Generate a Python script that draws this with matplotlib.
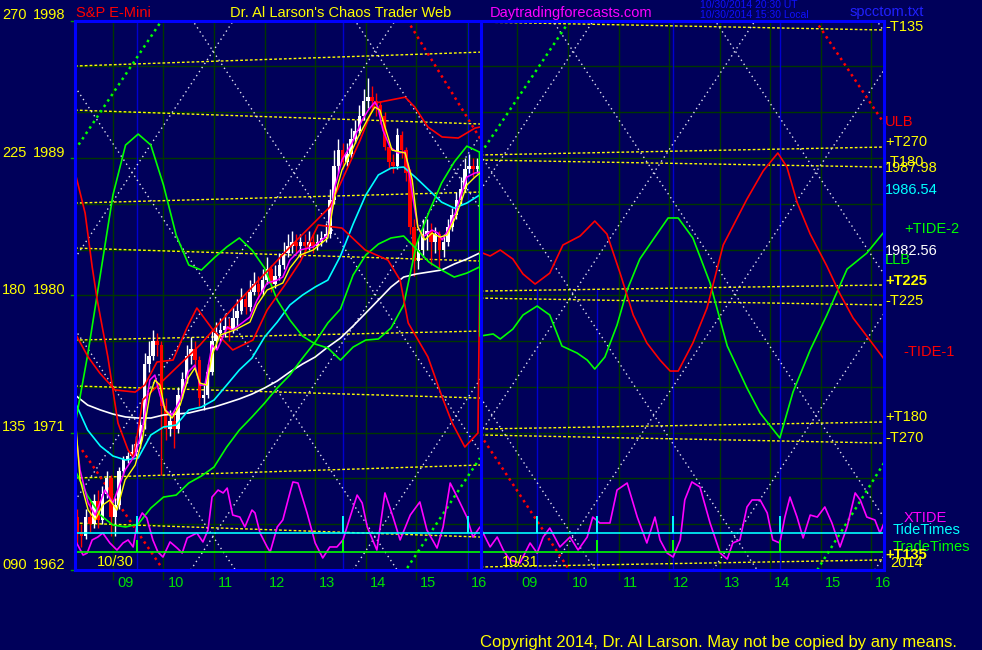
import numpy as np
import matplotlib
matplotlib.use('Agg')
import matplotlib.pyplot as plt
from matplotlib.transforms import blended_transform_factory

plt.rcParams['font.family'] = ['Liberation Sans', 'DejaVu Sans']

# ---------------- data ----------------
t_lo, t_hi = 8.25, 24.25          # hours, day 2 continues at +8h
p_lo, p_hi = 1962, 1998
day_break = 16.27

degree_labels = ['090', '135', '180', '225', '270']
price_ticks = [1962, 1971, 1980, 1989, 1998]
hour_ticks = list(range(9, 25))
hour_labels = ['09', '10', '11', '12', '13', '14', '15', '16',
               '09', '10', '11', '12', '13', '14', '15', '16']

# 5 minute bars, day 1
bar_open0 = 1965.5
bar_close = [1964.5, 1964.25, 1965.5, 1965.0, 1966.5, 1965.25, 1967.0, 1968.0, 1965.5, 1966.25,
             1968.5, 1969.25, 1969.5, 1969.75, 1970.25, 1971.5, 1975.5, 1976.0, 1977.0, 1976.75,
             1972.75, 1971.25, 1971.75, 1971.25, 1973.5, 1974.5, 1976.0, 1976.5, 1975.75, 1973.25,
             1973.5, 1975.0, 1977.0, 1977.5, 1977.75, 1978.0, 1977.75, 1978.5, 1979.0, 1979.75,
             1979.25, 1980.25, 1980.75, 1980.25, 1981.0, 1981.75, 1980.75, 1981.25, 1982.0, 1982.75,
             1983.25, 1983.5, 1983.25, 1983.5, 1983.25, 1983.5, 1983.25, 1983.5, 1983.75, 1984.0,
             1986.25, 1988.5, 1989.5, 1988.75, 1989.25, 1990.25, 1990.75, 1991.75, 1992.75, 1993.0,
             1992.75, 1992.5, 1991.75, 1989.75, 1988.75, 1988.5, 1990.5, 1989.5, 1988.0, 1984.5,
             1982.25, 1983.0, 1984.0, 1984.25, 1983.5, 1984.0, 1983.0, 1983.5, 1984.5, 1985.25,
             1986.25, 1987.0, 1988.25, 1988.5, 1988.25, 1988.5]
bar_high = [1966.0, 1965.0, 1966.0, 1966.5, 1967.0, 1967.25, 1967.5, 1968.5, 1968.25, 1966.75,
            1968.75, 1969.5, 1969.75, 1970.25, 1970.75, 1972.0, 1976.25, 1977.0, 1977.75, 1977.5,
            1977.0, 1973.25, 1972.5, 1972.5, 1974.0, 1975.0, 1976.75, 1977.25, 1977.0, 1976.0,
            1974.25, 1975.5, 1977.75, 1978.25, 1978.5, 1978.75, 1978.5, 1979.25, 1979.75, 1980.5,
            1980.25, 1981.0, 1981.5, 1981.25, 1981.75, 1982.5, 1982.0, 1982.0, 1982.75, 1983.5,
            1984.0, 1984.25, 1984.0, 1984.0, 1984.0, 1984.25, 1984.0, 1984.0, 1984.25, 1984.75,
            1987.0, 1989.5, 1990.25, 1990.0, 1990.0, 1991.0, 1991.5, 1992.5, 1993.5, 1994.25,
            1993.75, 1993.25, 1992.75, 1992.0, 1990.0, 1989.25, 1991.0, 1990.75, 1989.75, 1988.25,
            1985.0, 1983.75, 1985.0, 1985.0, 1984.75, 1984.5, 1984.25, 1984.0, 1985.0, 1985.75,
            1986.75, 1987.75, 1989.0, 1989.25, 1989.0, 1989.0]
bar_low = [1963.75, 1963.5, 1964.0, 1964.5, 1964.75, 1964.75, 1965.0, 1966.75, 1964.25, 1964.25,
           1966.0, 1968.25, 1969.0, 1969.25, 1969.5, 1970.0, 1971.25, 1975.0, 1975.75, 1976.0,
           1968.25, 1970.5, 1970.75, 1970.0, 1971.0, 1973.25, 1974.25, 1975.5, 1975.25, 1972.75,
           1972.5, 1973.25, 1974.75, 1976.5, 1977.0, 1977.25, 1977.0, 1977.5, 1978.0, 1978.75,
           1978.75, 1979.0, 1980.0, 1979.75, 1980.0, 1980.75, 1980.25, 1980.5, 1981.0, 1981.75,
           1982.5, 1982.75, 1982.75, 1982.5, 1982.75, 1983.0, 1982.75, 1983.0, 1983.25, 1983.5,
           1983.75, 1986.0, 1988.0, 1988.25, 1988.5, 1989.0, 1990.0, 1990.5, 1991.5, 1992.25,
           1992.25, 1991.75, 1991.25, 1989.5, 1988.25, 1988.0, 1988.25, 1989.0, 1987.5, 1984.0,
           1981.25, 1981.75, 1982.5, 1983.0, 1982.0, 1982.75, 1981.75, 1982.5, 1983.25, 1984.25,
           1985.0, 1986.0, 1986.75, 1988.0, 1987.75, 1988.0]

# smooth indicators day 1, sampled every 15 minutes
grid_t1 = [8.25, 8.5, 8.75, 9.0, 9.25, 9.5, 9.75, 10.0, 10.25, 10.5, 10.75, 11.0, 11.25, 11.5,
           11.75, 12.0, 12.25, 12.5, 12.75, 13.0, 13.25, 13.5, 13.75, 14.0, 14.25, 14.5, 14.75,
           15.0, 15.25, 15.5, 15.75, 16.0, 16.25]
cyan_ma = [1973.01, 1971.17, 1970.13, 1969.47, 1969.21, 1969.34, 1970.85, 1971.37, 1971.50, 1972.49,
           1972.68, 1973.14, 1974.12, 1975.11, 1975.89, 1977.27, 1978.25, 1979.37, 1980.02, 1980.55,
           1981.00, 1982.58, 1984.67, 1986.57, 1987.89, 1988.34, 1988.41, 1987.69, 1986.90, 1986.11,
           1985.72, 1986.05, 1986.57]
white_ma = [1973.47, 1972.81, 1972.49, 1972.22, 1972.03, 1971.96, 1971.96, 1972.16, 1972.22, 1972.29,
            1972.49, 1972.68, 1972.94, 1973.21, 1973.53, 1973.93, 1974.39, 1974.98, 1975.50, 1975.96,
            1976.61, 1977.20, 1977.99, 1978.84, 1979.69, 1980.55, 1981.20, 1981.40, 1981.53, 1981.66,
            1982.05, 1982.38, 1982.77]
green_a1 = [1971.50, 1976.09, 1981.33, 1986.57, 1989.85, 1990.57, 1989.85, 1987.23, 1983.95, 1981.99,
            1981.66, 1982.45, 1983.17, 1983.76, 1982.97, 1981.79, 1979.69, 1978.38, 1977.33, 1976.81,
            1976.55, 1975.76, 1976.61, 1977.07, 1977.14, 1977.86, 1979.37, 1983.30, 1985.46, 1987.36,
            1988.74, 1989.78, 1989.39]
green_b1 = [1968.55, 1966.85, 1965.60, 1964.95, 1964.82, 1965.01, 1966.06, 1966.78, 1966.91, 1967.70,
            1968.16, 1968.75, 1970.06, 1971.17, 1972.03, 1972.94, 1973.93, 1974.78, 1975.89, 1976.94,
            1978.19, 1979.10, 1981.33, 1982.64, 1983.36, 1983.76, 1983.89, 1983.04, 1982.18, 1981.66,
            1981.20, 1981.46, 1981.86]

red_a_t = [8.25, 8.45, 8.59, 8.69, 8.90, 9.10, 9.30, 9.40, 9.50, 9.59, 10.72, 11.51, 12.54, 13.29,
           13.89, 14.18, 14.78, 14.97, 15.23, 15.51, 15.83, 16.16, 16.26]
red_a_p = [1988.08, 1985.39, 1981.86, 1979.69, 1975.96, 1971.63, 1969.86, 1969.41, 1971.17, 1973.14,
           1976.74, 1979.69, 1983.30, 1985.79, 1990.18, 1992.60, 1992.99, 1992.34, 1991.03, 1990.38,
           1990.31, 1990.96, 1991.03]
red_b_t = [8.25, 8.51, 8.74, 9.04, 9.44, 9.63, 9.87, 10.19, 10.47, 10.66, 10.98, 11.37, 11.77, 12.05,
           12.40, 12.70, 13.06, 13.53, 13.99, 14.44, 14.68, 14.84, 15.23, 15.51, 15.71, 15.96, 16.22,
           16.26]
red_b_p = [1977.53, 1975.96, 1974.91, 1973.80, 1973.66, 1974.12, 1975.63, 1975.76, 1977.92, 1979.17,
           1977.73, 1976.42, 1977.07, 1979.04, 1980.68, 1982.18, 1984.61, 1984.41, 1982.97, 1982.31,
           1981.00, 1978.19, 1975.96, 1973.34, 1971.63, 1970.06, 1970.98, 1982.84]

magenta_t = [8.25, 8.35, 8.51, 8.65, 8.84, 9.00, 9.24, 9.44, 9.58, 9.73, 9.83, 9.93, 10.03, 10.17,
             10.33, 10.49, 10.62, 10.72, 10.82, 10.96, 11.06, 11.26, 11.37, 11.71, 11.85, 12.05,
             12.25, 12.36, 12.50, 12.70, 12.96, 13.25, 13.39, 13.53, 13.73, 13.93, 14.05, 14.18,
             14.24, 14.34, 14.48, 14.64, 14.78, 14.84, 14.94, 15.03, 15.13, 15.31, 15.43, 15.51,
             15.63, 15.77, 15.90, 16.00, 16.16, 16.26]
magenta_p = [1971.50, 1968.55, 1966.39, 1965.60, 1967.24, 1966.39, 1968.55, 1969.54, 1971.17, 1974.45,
             1974.78, 1973.47, 1972.49, 1972.16, 1973.14, 1974.98, 1975.43, 1974.12, 1974.12, 1976.74,
             1976.42, 1977.92, 1977.73, 1978.58, 1979.69, 1980.81, 1981.00, 1981.20, 1982.31, 1982.97,
             1983.17, 1983.95, 1987.10, 1988.87, 1989.98, 1991.49, 1992.14, 1992.67, 1992.34, 1990.83,
             1989.72, 1989.33, 1989.39, 1988.41, 1986.25, 1984.48, 1983.82, 1984.28, 1984.08, 1983.63,
             1984.28, 1985.39, 1986.71, 1987.75, 1988.02, 1988.08]
yellow_t = [8.25, 8.35, 8.51, 8.65, 8.80, 8.94, 9.08, 9.24, 9.44, 9.58, 9.73, 9.83, 9.93, 10.03,
            10.17, 10.33, 10.49, 10.62, 10.72, 10.86, 10.96, 11.12, 11.41, 11.71, 11.85, 12.05,
            12.36, 12.50, 12.70, 12.96, 13.25, 13.39, 13.53, 13.73, 13.85, 14.05, 14.18, 14.28,
            14.38, 14.52, 14.78, 14.92, 15.03, 15.17, 15.31, 15.47, 15.61, 15.77, 15.90, 16.00,
            16.16, 16.26]
yellow_p = [1972.29, 1967.90, 1965.93, 1965.28, 1966.26, 1966.59, 1965.93, 1967.90, 1968.88, 1970.52,
            1973.47, 1974.45, 1974.12, 1972.49, 1971.96, 1972.81, 1974.58, 1975.24, 1974.25, 1974.12,
            1976.09, 1977.40, 1977.73, 1978.25, 1979.37, 1980.35, 1980.81, 1981.79, 1982.64, 1982.97,
            1983.76, 1986.57, 1988.21, 1989.52, 1990.38, 1991.62, 1992.34, 1992.14, 1991.03, 1989.52,
            1989.33, 1987.56, 1984.48, 1983.63, 1984.08, 1983.82, 1983.95, 1985.07, 1986.25, 1987.23,
            1987.75, 1988.02]

# day 2 tides
tide1_t = [16.26, 16.46, 16.66, 16.91, 17.11, 17.35, 17.64, 17.90, 18.24, 18.53, 18.77, 19.03, 19.29,
           19.56, 19.82, 20.02, 20.18, 20.47, 20.75, 21.07, 21.54, 21.86, 22.15, 22.33, 22.53, 22.79,
           23.12, 23.38, 23.64, 23.91, 24.25]
tide1_p = [1982.84, 1982.58, 1982.97, 1982.38, 1981.40, 1980.74, 1981.46, 1983.30, 1983.89, 1984.87,
           1984.02, 1981.46, 1978.71, 1976.88, 1975.76, 1975.04, 1975.04, 1976.88, 1979.17, 1983.30,
           1986.31, 1988.15, 1989.33, 1988.41, 1986.11, 1984.02, 1981.92, 1980.09, 1978.51, 1977.33,
           1975.83]
tide2_t = [16.26, 16.52, 16.66, 16.91, 17.11, 17.39, 17.64, 17.88, 18.18, 18.38, 18.53, 18.73, 18.97,
           19.17, 19.42, 19.76, 19.98, 20.18, 20.47, 20.81, 21.15, 21.54, 21.80, 22.19, 22.45, 22.79,
           23.12, 23.52, 23.91, 24.25]
tide2_p = [1977.33, 1977.47, 1977.14, 1977.79, 1978.71, 1979.30, 1978.71, 1976.68, 1976.22, 1975.76,
           1975.17, 1975.96, 1978.05, 1980.35, 1982.38, 1984.02, 1985.07, 1985.07, 1983.76, 1980.81,
           1976.68, 1973.93, 1972.29, 1970.65, 1973.66, 1976.42, 1978.71, 1981.72, 1982.77, 1984.15]

xtide_t = [8.25, 8.41, 8.49, 8.59, 8.70, 8.80, 8.94, 9.08, 9.20, 9.30, 9.40, 9.48, 9.58, 9.67, 9.79,
           9.89, 9.99, 10.13, 10.27, 10.37, 10.47, 10.66, 10.78, 10.88, 10.96, 11.08, 11.18, 11.26,
           11.32, 11.37, 11.51, 11.61, 11.75, 11.81, 11.91, 12.05, 12.11, 12.25, 12.36, 12.50, 12.56,
           12.66, 12.84, 13.00, 13.15, 13.29, 13.43, 13.55, 13.69, 13.83, 13.93, 14.03, 14.22, 14.38,
           14.54, 14.68, 14.88, 15.07, 15.21, 15.41, 15.53, 15.67, 15.81, 16.00, 16.12, 16.26, 16.46,
           16.60, 16.72, 16.85, 17.05, 17.25, 17.39, 17.51, 17.64, 17.84, 18.04, 18.20, 18.38, 18.49,
           18.63, 18.83, 18.97, 19.17, 19.37, 19.56, 19.72, 19.82, 19.96, 20.08, 20.22, 20.31, 20.45,
           20.61, 20.81, 21.01, 21.15, 21.26, 21.40, 21.54, 21.64, 21.80, 21.94, 22.05, 22.19, 22.29,
           22.39, 22.53, 22.65, 22.79, 22.93, 23.08, 23.22, 23.38, 23.52, 23.68, 23.78, 23.91, 24.07,
           24.17, 24.25]
xtide_p = [1963.97, 1962.98, 1963.11, 1963.97, 1964.16, 1964.42, 1963.77, 1963.31, 1963.77, 1963.97,
           1963.51, 1965.08, 1965.74, 1965.41, 1963.97, 1963.18, 1962.85, 1963.84, 1963.44, 1963.11,
           1964.10, 1964.42, 1963.84, 1964.62, 1966.78, 1967.24, 1967.05, 1967.37, 1966.39, 1965.60,
           1965.47, 1964.82, 1965.93, 1965.74, 1964.42, 1963.51, 1963.18, 1964.82, 1965.28, 1967.05,
           1967.77, 1967.70, 1965.74, 1963.77, 1962.79, 1963.51, 1963.51, 1963.97, 1965.47, 1966.91,
           1966.39, 1964.82, 1963.31, 1967.05, 1965.47, 1963.97, 1965.60, 1966.46, 1964.62, 1963.44,
           1964.82, 1967.70, 1966.78, 1965.47, 1964.16, 1964.82, 1963.51, 1964.16, 1963.31, 1962.66,
           1962.46, 1963.77, 1963.11, 1964.16, 1964.75, 1963.51, 1964.16, 1963.31, 1964.16, 1965.47,
           1965.08, 1965.08, 1967.24, 1967.70, 1965.47, 1963.77, 1965.47, 1963.97, 1963.11, 1962.85,
           1963.97, 1966.59, 1967.77, 1967.44, 1965.08, 1963.11, 1962.72, 1963.77, 1963.97, 1966.13,
           1966.59, 1966.59, 1965.74, 1963.97, 1963.77, 1965.47, 1966.78, 1965.47, 1964.10, 1965.60,
           1965.47, 1966.13, 1965.08, 1963.51, 1964.82, 1967.05, 1966.59, 1965.47, 1965.28, 1964.42,
           1965.08]

tide_times = [9.48, 13.55, 16.02, 17.39, 18.57, 20.08, 22.19]
trade_times = [9.48, 13.55, 18.57, 20.08, 22.19]
tidetimes_base, tidetimes_top = 1964.42, 1965.54
tradetimes_base, tradetimes_top = 1963.18, 1963.97

# T lines (start / end price of each day)
tline1_start = [1995.03, 1992.14, 1986.05, 1983.10, 1977.07, 1974.06, 1968.03, 1965.08]
tline1_end = [1995.94, 1991.23, 1986.77, 1982.25, 1977.66, 1973.27, 1968.88, 1964.16]
tline2_start = [1997.91, 1989.20, 1988.87, 1980.28, 1979.82, 1971.24, 1970.85, 1962.20]
tline2_end = [1997.39, 1989.72, 1988.41, 1980.68, 1979.37, 1971.70, 1970.32, 1962.66]

# lattice of time/price lines: crossing times at the 1980.1 level
lattice_price = 1980.1
lattice_slope = 4.97
lattice_day1 = [7.78, 10.98, 14.18, 17.39]
lattice_day2 = [14.90, 18.10, 21.30, 24.51, 27.71]

# band lines (t0, p0, t1, p1)
green_band = [(8.25, 1989.52, 9.97, 1998.04), (14.82, 1962.13, 16.26, 1969.34),
              (16.28, 1989.33, 18.04, 1998.04), (22.93, 1962.0, 24.25, 1969.01)]
red_band = [(8.39, 1969.86, 9.97, 1962.13), (14.82, 1998.04, 16.27, 1990.24),
            (16.27, 1970.85, 18.00, 1962.13), (22.89, 1998.04, 24.25, 1991.27)]

# ---------------- figure ----------------
W, H = 982, 650
bg = '#00005a'
grid_c = '#003600'
fig = plt.figure(figsize=(W / 100, H / 100), dpi=100, facecolor=bg)
ax = fig.add_axes([75 / W, (H - 570) / H, 809 / W, 549.3 / H], facecolor=bg)
ax.set_xlim(t_lo, t_hi)
ax.set_ylim(p_lo, p_hi)
for s in ax.spines.values():
    s.set_color('#0000ff')
    s.set_linewidth(2.2)
    s.set_zorder(20)
ax.set_xticks([])
ax.set_yticks([])

# grid
ax.hlines(np.arange(1965, 1998, 3), t_lo, t_hi, color=grid_c, lw=1, zorder=1)
ax.vlines(hour_ticks, p_lo - 10 / 15.26, p_hi, color=grid_c, lw=1, zorder=1, clip_on=False)

# tide time verticals
full_tides = [9.48, 13.55, 16.02, 20.08, 22.19]
part_tides = [17.39, 18.57]
ax.vlines(full_tides, p_lo, p_hi, color='#0000d0', lw=1, zorder=1.5)
ax.vlines(part_tides, p_lo, 1980.4, color='#0000d0', lw=1, zorder=1.5)
ax.axvline(day_break, color='#0000ff', lw=2.2, zorder=19)

# T lines
for a, b in zip(tline1_start, tline1_end):
    ax.plot([t_lo, day_break], [a, b], color='#ffff00', lw=1, ls=(0, (2, 1.5)), zorder=2)
for a, b in zip(tline2_start, tline2_end):
    ax.plot([day_break, t_hi], [a, b], color='#ffff00', lw=1, ls=(0, (2, 1.5)), zorder=2)

# lattice
for t0, t1, xs in [(t_lo, day_break, lattice_day1), (day_break, t_hi, lattice_day2)]:
    tt = np.array([t0, t1])
    for tx in xs:
        for sgn in (1, -1):
            ax.plot(tt, lattice_price + sgn * lattice_slope * (tt - tx), color='#e0e0f0',
                    lw=1, ls=(0, (1, 2.5)), zorder=2)

for t0, p0, t1, p1 in green_band:
    ax.plot([t0, t1], [p0, p1], color='#00ff00', lw=1.8, ls=(0, (1, 1.6)), zorder=3)
for t0, p0, t1, p1 in red_band:
    ax.plot([t0, t1], [p0, p1], color='#ff0000', lw=1.8, ls=(0, (1, 1.6)), zorder=3)

# candles
c = np.array(bar_close)
o = np.concatenate([[bar_open0], c[:-1]])
bt = t_lo + (np.arange(len(c)) + 0.5) / 12
cols = np.where(c >= o, '#ffffff', '#ff0000')
ax.vlines(bt, bar_low, bar_high, colors=cols, lw=1, zorder=4)
body = np.maximum(np.abs(c - o), 0.15)
ax.bar(bt, body, bottom=np.minimum(o, c), width=0.07, color=cols, lw=0, zorder=4)

# indicators day 1
ax.plot(grid_t1, white_ma, color='#ffffff', lw=1.2, zorder=5)
ax.plot(grid_t1, cyan_ma, color='#00ffff', lw=1.2, zorder=5)
ax.plot(grid_t1, green_b1, color='#00ff00', lw=1.2, zorder=5)
ax.plot(grid_t1, green_a1, color='#00ff00', lw=1.2, zorder=5)
ax.plot(red_a_t, red_a_p, color='#ff0000', lw=1.2, zorder=5)
ax.plot(red_b_t, red_b_p, color='#ff0000', lw=1.2, zorder=5)
ax.plot(magenta_t, magenta_p, color='#ff00ff', lw=1.1, zorder=6)
ax.plot(yellow_t, yellow_p, color='#ffff00', lw=1.0, zorder=6)

# day 2 tides
ax.plot([grid_t1[-1]] + tide2_t, [green_a1[-1]] + tide2_p, color='#00ff00', lw=1.2, zorder=5)
ax.plot(tide1_t, tide1_p, color='#ff0000', lw=1.2, zorder=5)

# xtide and time markers
ax.plot(xtide_t, xtide_p, color='#ff00ff', lw=1.2, zorder=6)
ax.hlines(tidetimes_base, t_lo, t_hi, color='#00ffff', lw=1.2, zorder=6)
ax.vlines(tide_times, tidetimes_base, tidetimes_top, color='#00ffff', lw=1.4, zorder=6)
ax.hlines(tradetimes_base, t_lo, t_hi, color='#00ff00', lw=1.2, zorder=6)
ax.vlines(trade_times, tradetimes_base, tradetimes_top, color='#00ff00', lw=1.4, zorder=6)

# ---------------- text ----------------
fs = 10.5
yel = '#ffff00'
left_tf = blended_transform_factory(fig.transFigure, ax.transData)
for deg, pr in zip(degree_labels, price_ticks):
    ax.text(2 / W, pr + 0.08, deg, transform=left_tf, ha='left', va='baseline', color=yel,
            fontsize=fs, clip_on=False)
    ax.text(65 / W, pr + 0.08, str(pr), transform=left_tf, ha='right', va='baseline', color=yel,
            fontsize=fs, clip_on=False)
    ax.plot([71 / W, 75 / W], [pr, pr], transform=left_tf, color='#00a000', lw=1, clip_on=False)

for h, lbl in zip(hour_ticks, hour_labels):
    ax.text(h + 4 / 50.56, p_lo - 13 / 15.26, lbl, ha='left', va='center', color='#00e000',
            fontsize=fs, clip_on=False)

ax.text(8.69, 1962.52, '10/30', color=yel, fontsize=fs, va='center', zorder=10)
ax.text(16.70, 1962.52, '10/31', color=yel, fontsize=fs, va='center', zorder=10)

right_labels = [('-T135', 24.27, 1997.58, yel, 'normal'),
                ('ULB', 24.27, 1991.36, '#ff0000', 'normal'),
                ('+T270', 24.27, 1990.05, yel, 'normal'),
                ('-T180', 24.27, 1988.74, yel, 'normal'),
                ('1987.98', 24.27, 1988.34, yel, 'normal'),
                ('1986.54', 24.27, 1986.90, '#00ffff', 'normal'),
                ('+TIDE-2', 24.65, 1984.35, '#00ff00', 'normal'),
                ('1982.56', 24.27, 1982.90, '#ffffff', 'normal'),
                ('LLB', 24.27, 1982.31, '#00ff00', 'normal'),
                ('+T225', 24.27, 1980.94, yel, 'bold'),
                ('-T225', 24.27, 1979.63, yel, 'normal'),
                ('-TIDE-1', 24.63, 1976.29, '#ff0000', 'normal'),
                ('+T180', 24.27, 1972.03, yel, 'normal'),
                ('-T270', 24.27, 1970.65, yel, 'normal'),
                ('XTIDE', 24.63, 1965.41, '#ff00ff', 'normal'),
                ('TideTimes', 24.43, 1964.62, '#00ffff', 'normal'),
                ('TradeTimes', 24.43, 1963.51, '#00ff00', 'normal'),
                ('+T135', 24.27, 1962.98, yel, 'bold'),
                ('2014', 24.37, 1962.46, yel, 'normal')]
for txt, tx, py, col, wt in right_labels:
    ax.text(tx, py, txt, color=col, fontsize=fs, fontweight=wt, ha='left', va='center',
            clip_on=False, zorder=10)

fig.text(76 / W, 1 - 13 / H, 'S&P E-Mini', color='#ff0000', fontsize=fs, va='center')
fig.text(230 / W, 1 - 13 / H, "Dr. Al Larson's Chaos Trader Web", color=yel, fontsize=fs,
         va='center')
fig.text(490 / W, 1 - 13 / H, 'Daytradingforecasts.com', color='#ff00ff', fontsize=fs,
         va='center')
fig.text(700 / W, 1 - 5 / H, '10/30/2014 20:30 UT', color='#1010ff', fontsize=7.5, va='center')
fig.text(700 / W, 1 - 15 / H, '10/30/2014 15:30 Local', color='#1010ff', fontsize=7.5,
         va='center')
fig.text(850 / W, 1 - 12 / H, 'spcctom.txt', color='#2020ff', fontsize=fs, va='center')
fig.text(480 / W, 1 - 642 / H, 'Copyright 2014, Dr. Al Larson. May not be copied by any means.',
         color=yel, fontsize=12, va='center')

fig.savefig('out.png', dpi=100, facecolor=bg)
